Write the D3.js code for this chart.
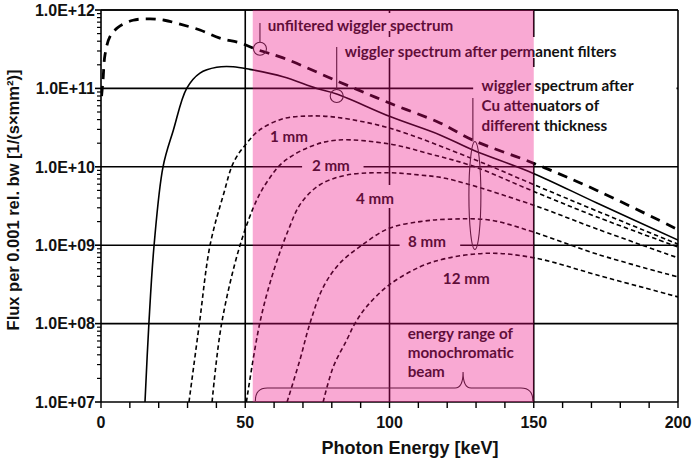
<!DOCTYPE html>
<html><head><meta charset="utf-8">
<script src="https://cdn.jsdelivr.net/npm/d3@7"></script>
<style>
html,body{margin:0;padding:0;background:#fff;}
svg{display:block;}
</style></head>
<body>
<svg id="chart" width="693" height="460"></svg>
<script>
// ---------- DATA ----------
const unfilteredE    = [0.2, 0.7, 1.4, 3.1, 5.9, 11.1, 17, 22, 27.4, 34.3, 41.2, 48.2, 54.4, 63.1, 82.8, 100.2, 117.5, 128.9, 149.7, 171.9, 200];
const unfilteredFlux = [8e10, 1.28e11, 2.7e11, 4.57e11, 6.0e11, 7.4e11, 7.7e11, 7.4e11, 6.6e11, 5.56e11, 4.37e11, 3.8e11, 3.1e11, 2.45e11, 1.2e11, 6.46e10, 3.63e10, 2.19e10, 1.12e10, 5.0e9, 1.58e9];

const filteredE    = [15.25, 16.6, 18.4, 21.5, 25.1, 29.7, 34.3, 40.1, 45.8, 51.6, 63.1, 74.8, 81.7, 100.2, 117.5, 128.9, 149.7, 171.9, 200];
const filteredFlux = [1e7, 1e8, 1e9, 1e10, 2.95e10, 1e11, 1.57e11, 1.86e11, 1.89e11, 1.75e11, 1.41e11, 1.0e11, 8.5e10, 4.37e10, 2.55e10, 1.64e10, 8.3e9, 3.45e9, 1.16e9];

const cu1E    = [30.5, 34.1, 37.8, 42.5, 46, 50.5, 55, 63.1, 72.4, 81.7, 100.2, 128.9, 149.7, 171.9, 200];
const cu1Flux = [1e7, 1e8, 1e9, 4.5e9, 1.15e10, 2.0e10, 2.95e10, 4.1e10, 4.45e10, 4.27e10, 3.1e10, 1.26e10, 6.0e9, 2.73e9, 1.03e9];

const cu2E    = [38.5, 41.8, 48.2, 54, 58, 63.2, 72.4, 81.7, 100.2, 114, 128.9, 149.7, 171.9, 200];
const cu2Flux = [1e7, 1e8, 1e9, 3.78e9, 6.8e9, 1.15e10, 1.8e10, 2.19e10, 1.95e10, 1.46e10, 1.02e10, 4.9e9, 2.29e9, 9.5e8];

const cu4E    = [50.4, 55, 59.6, 64.9, 69.3, 75.9, 85.2, 99.8, 110.6, 119.8, 149.7, 171.9, 200];
const cu4Flux = [1e7, 1e8, 4.4e8, 1.55e9, 3.43e9, 5.9e9, 7.85e9, 8.4e9, 7.85e9, 7.08e9, 3.26e9, 1.61e9, 6.9e8];

const cu8E    = [64.5, 69, 72.4, 77.1, 82.8, 90.4, 99.8, 110.6, 119.8, 134.8, 149.7, 171.9, 200];
const cu8Flux = [1e7, 3.5e7, 1e8, 2.95e8, 5.9e8, 1e9, 1.64e9, 2.0e9, 2.14e9, 2.09e9, 1.48e9, 7.7e8, 3.93e8];

const cu12E    = [77, 80.5, 85.2, 88, 92.1, 99.8, 110.6, 119.8, 134.8, 151, 171.9, 200];
const cu12Flux = [1e7, 2.8e7, 6.2e7, 1e8, 1.65e8, 3.1e8, 5.3e8, 6.8e8, 7.9e8, 6.8e8, 4.17e8, 2.19e8];

const yTickValues = [1e7, 1e8, 1e9, 1e10, 1e11, 1e12];
const yTickLabels = ["1.0E+07", "1.0E+08", "1.0E+09", "1.0E+10", "1.0E+11", "1.0E+12"];
const xTickValues = [0, 50, 100, 150, 200];
const xTickLabels = ["0", "50", "100", "150", "200"];
const monoRange = [52.6, 150];

const xTitle = "Photon Energy [keV]";
const yTitle = "Flux per 0.001 rel. bw [1/(s×mm²)]";

// ---------- SCALES ----------
const svg = d3.select("#chart");
const L = 101, R = 678, T = 10, B = 402;
const x = d3.scaleLinear().domain([0, 200]).range([L, R]);
const y = d3.scaleLog().domain([1e7, 1e12]).range([B, T]);

svg.append("defs").append("clipPath").attr("id", "plotClip")
  .append("rect").attr("x", L).attr("y", T).attr("width", R - L).attr("height", B - T);

const annoFont = "Lato, 'Open Sans', sans-serif";
const axisFont = "'Liberation Sans', Arial, sans-serif";

// ---------- GRIDLINES ----------
const grid = svg.append("g").attr("stroke", "#000").attr("stroke-width", 1.6);
grid.selectAll("line.h").data(yTickValues.slice(1)).join("line")
  .attr("x1", L).attr("x2", R).attr("y1", d => y(d)).attr("y2", d => y(d));
grid.selectAll("line.v").data([50, 100, 150, 200]).join("line")
  .attr("x1", d => x(d)).attr("x2", d => x(d)).attr("y1", T).attr("y2", B);

// label masks (text boxes hiding gridlines)
const masks = [
  [x(56.5), 13, x(126), 31],
  [x(82.5), 37, x(184), 58],
  [x(129), 67, R - 1.5, 162],
  [x(69.7), 158, x(91), 174],
  [x(86.5), 185, x(103.5), 208],
  [x(103.5), 236, x(124.5), 254]
];
svg.append("g").selectAll("rect").data(masks).join("rect")
  .attr("x", d => d[0]).attr("y", d => d[1]).attr("width", d => d[2] - d[0]).attr("height", d => d[3] - d[1])
  .attr("fill", "#fff");

// ---------- CURVES ----------
const line = d3.line().x(d => x(d[0])).y(d => y(d[1])).curve(d3.curveCatmullRom.alpha(0.5));
const curves = svg.append("g").attr("clip-path", "url(#plotClip)").attr("fill", "none").attr("stroke", "#000");
function zip(a, b) { return a.map((v, i) => [v, b[i]]); }
curves.append("path").datum(zip(unfilteredE, unfilteredFlux)).attr("d", line)
  .attr("stroke-width", 2.8).attr("stroke-dasharray", "10,7");
curves.append("path").datum(zip(filteredE, filteredFlux)).attr("d", line)
  .attr("stroke-width", 1.6);
[[cu1E, cu1Flux], [cu2E, cu2Flux], [cu4E, cu4Flux], [cu8E, cu8Flux], [cu12E, cu12Flux]].forEach(([e, f]) => {
  curves.append("path").datum(zip(e, f)).attr("d", line)
    .attr("stroke-width", 1.6).attr("stroke-dasharray", "4.5,3");
});

// ---------- ANNOTATIONS ----------
const anno = svg.append("g").attr("fill", "none").attr("stroke", "#222").attr("stroke-width", 1.1);
const c1 = [55.1, 3.2e11], c2 = [81.7, 8.0e10];
anno.append("circle").attr("cx", x(c1[0])).attr("cy", y(c1[1])).attr("r", 6.5);
anno.append("line").attr("x1", x(c1[0])).attr("x2", x(c1[0])).attr("y1", 23).attr("y2", y(c1[1]) - 6.5);
anno.append("circle").attr("cx", x(c2[0])).attr("cy", y(c2[1])).attr("r", 6.5);
anno.append("line").attr("x1", x(c2[0])).attr("x2", x(c2[0])).attr("y1", 47).attr("y2", y(c2[1]) - 6.5);
const ell = [129.6, 4.3e9];
anno.append("ellipse").attr("cx", x(ell[0])).attr("cy", y(ell[1])).attr("rx", 6).attr("ry", 54);
anno.append("line").attr("x1", x(128.9)).attr("x2", x(128.9)).attr("y1", 98).attr("y2", y(ell[1]) - 54);
const bx1 = x(53.5), bx2 = x(149.7), bm = x(125.5);
const bBot = B - 1, bMid = B - 14, bTip = B - 30;
anno.append("path").attr("d",
  `M${bx1},${bBot} Q${bx1},${bMid} ${bx1 + 12},${bMid} L${bm - 8},${bMid} Q${bm},${bMid} ${bm},${bTip} ` +
  `Q${bm},${bMid} ${bm + 8},${bMid} L${bx2 - 12},${bMid} Q${bx2},${bMid} ${bx2},${bBot}`);

const labels = [
  {t: "unfiltered wiggler spectrum", x: x(57.8), y: 31},
  {t: "wiggler spectrum after permanent filters", x: x(84.5), y: 57},
  {t: "wiggler spectrum after", x: x(131.9), y: 91},
  {t: "Cu attenuators of", x: x(131.9), y: 111},
  {t: "different thickness", x: x(131.9), y: 131},
  {t: "1 mm", x: x(58.6), y: 142},
  {t: "2 mm", x: x(73.1), y: 171},
  {t: "4 mm", x: x(88.4), y: 204},
  {t: "8 mm", x: x(106.4), y: 247},
  {t: "12 mm", x: x(118.5), y: 284},
  {t: "energy range of", x: x(106.3), y: 339},
  {t: "monochromatic", x: x(106.3), y: 358},
  {t: "beam", x: x(106.3), y: 377}
];
svg.append("g").selectAll("text").data(labels).join("text")
  .attr("x", d => d.x).attr("y", d => d.y).text(d => d.t)
  .attr("font-family", annoFont).attr("font-weight", "bold").attr("font-size", 15.2).attr("fill", "#111");

// ---------- AXES ----------
const axes = svg.append("g").attr("stroke", "#000").attr("stroke-width", 1.6);
axes.append("line").attr("x1", L).attr("x2", L).attr("y1", T).attr("y2", B);
axes.append("line").attr("x1", L).attr("x2", R).attr("y1", B).attr("y2", B);
axes.append("line").attr("x1", L).attr("x2", R).attr("y1", T).attr("y2", T);
const minor = [];
for (let p = 7; p < 12; p++) for (let m = 2; m <= 9; m++) minor.push(m * Math.pow(10, p));
axes.selectAll("line.ym").data(minor).join("line")
  .attr("x1", L - 4).attr("x2", L).attr("y1", d => y(d)).attr("y2", d => y(d)).attr("stroke-width", 1.2);
axes.selectAll("line.yM").data(yTickValues).join("line")
  .attr("x1", L - 6).attr("x2", L).attr("y1", d => y(d)).attr("y2", d => y(d));
axes.selectAll("line.xt").data(d3.range(0, 201, 10)).join("line")
  .attr("x1", d => x(d)).attr("x2", d => x(d)).attr("y1", B).attr("y2", B + 6).attr("stroke-width", 1.4);

const tl = svg.append("g").attr("font-family", axisFont).attr("font-weight", "bold").attr("font-size", 16).attr("fill", "#111");
tl.selectAll("text.y").data(yTickValues).join("text")
  .attr("x", L - 6).attr("y", d => y(d)).attr("dy", "0.36em").attr("text-anchor", "end")
  .text((d, i) => yTickLabels[i]);
tl.selectAll("text.x").data(xTickValues).join("text")
  .attr("x", d => x(d)).attr("y", 428).attr("text-anchor", "middle")
  .text((d, i) => xTickLabels[i]);
svg.append("text").attr("x", 410).attr("y", 454).attr("text-anchor", "middle")
  .attr("font-family", axisFont).attr("font-weight", "bold").attr("font-size", 18).attr("fill", "#111")
  .text(xTitle);
svg.append("text").attr("transform", `translate(19,200) rotate(-90)`).attr("text-anchor", "middle")
  .attr("font-family", axisFont).attr("font-weight", "bold").attr("font-size", 16.5).attr("fill", "#111")
  .text(yTitle);

// ---------- PINK OVERLAY ----------
svg.append("rect").attr("x", x(monoRange[0])).attr("y", T).attr("width", x(monoRange[1]) - x(monoRange[0])).attr("height", B - T)
  .attr("fill", "#ef0a80").attr("fill-opacity", 0.35);
</script>
</body></html>
